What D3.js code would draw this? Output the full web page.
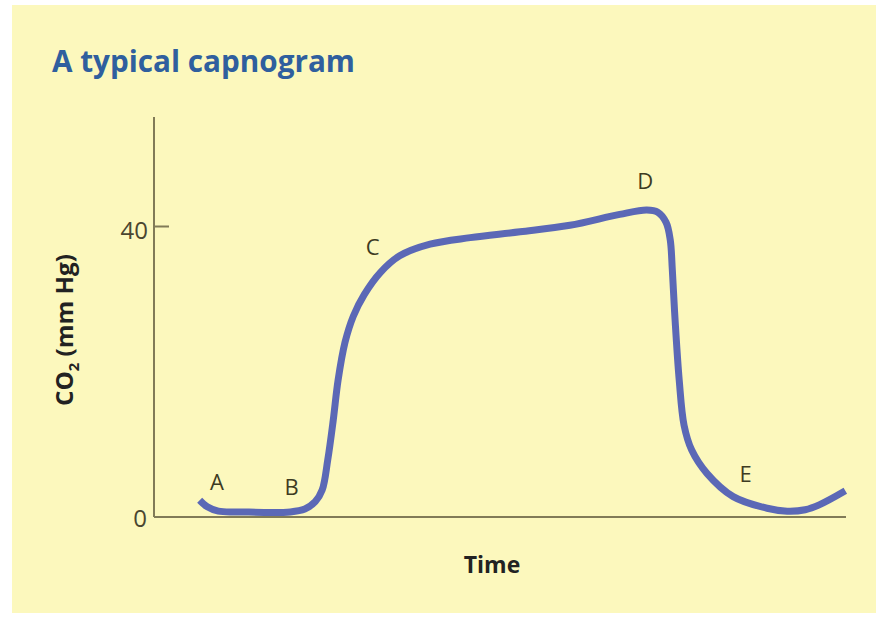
<!DOCTYPE html>
<html>
<head>
<meta charset="utf-8">
<script src="https://cdn.jsdelivr.net/npm/d3@7"></script>
<style>
  html, body { margin: 0; padding: 0; background: #ffffff; }
  svg { display: block; }
</style>
</head>
<body>
<script>
// ---- data ----
const time = [6.6, 7.7, 9.3, 12.4, 19.7, 21.8, 23.3, 24.3, 25.1, 25.9, 26.6, 27.6, 28.8, 30.4, 32.7, 35.5, 39.9, 45.7, 52.9, 60.1, 67.3, 71.2, 72.8, 74.0, 74.6, 74.9, 75.3, 75.9, 76.6, 77.7, 79.9, 83.7, 88.6, 91.5, 94.1, 96.2, 99.9];
const co2  = [2.3, 1.4, 0.8, 0.7, 0.7, 1.1, 2.1, 3.7, 7.8, 13.3, 18.8, 24.0, 27.6, 30.6, 33.6, 35.9, 37.5, 38.4, 39.2, 40.1, 41.6, 42.2, 41.9, 40.5, 38.1, 34.0, 27.1, 18.8, 12.6, 9.2, 6.0, 2.8, 1.2, 0.8, 1.0, 1.7, 3.6];
const yTicks = [0, 40];
const phaseLabels = ["A", "B", "C", "D", "E"];
const phaseTime = [9.1, 19.9, 31.6, 71.0, 85.5];
const phaseCO2  = [3.7, 3.0, 36.0, 45.1, 4.8];

const W = 876, H = 618;
const svg = d3.select("body").append("svg").attr("width", W).attr("height", H);

svg.append("rect").attr("x", 12).attr("y", 5).attr("width", W - 12).attr("height", 608).attr("fill", "#fcf8bd");

const x = d3.scaleLinear().domain([0, 100]).range([154, 846]);
const y = d3.scaleLinear().domain([0, 40]).range([517, 226]);
const yTop = y.invert(117);

const axisColor = "#817b57";
const textColor = "#3d3b22";

// title
svg.append("text").attr("x", 52).attr("y", 72)
  .attr("font-family", "Open Sans, sans-serif").attr("font-weight", 700).attr("font-size", 30)
  .attr("fill", "#2f5f9e").attr("textLength", 303).attr("lengthAdjust", "spacingAndGlyphs")
  .text("A typical capnogram");

// y axis
const yAxis = d3.axisRight(y).tickValues(yTicks).tickSize(15).tickFormat("");
const gy = svg.append("g").attr("transform", `translate(${x(0)},0)`).call(yAxis);
gy.select(".domain").remove();
gy.selectAll(".tick line").attr("stroke", axisColor).attr("stroke-width", 2);
gy.selectAll(".tick line").filter(d => d === 0).remove();
svg.append("line").attr("x1", x(0)).attr("x2", x(0)).attr("y1", y(yTop)).attr("y2", y(0))
  .attr("stroke", axisColor).attr("stroke-width", 2);
svg.append("line").attr("x1", x(0)).attr("x2", x(100)).attr("y1", y(0)).attr("y2", y(0))
  .attr("stroke", axisColor).attr("stroke-width", 2);

svg.selectAll(".ytl").data(yTicks).join("text").attr("class", "ytl")
  .attr("x", d => d === 0 ? x(0) - 7 : x(0) - 6)
  .attr("y", d => d === 0 ? y(d) + 10 : y(d) + 13)
  .attr("text-anchor", "end")
  .attr("font-family", "Open Sans, sans-serif").attr("font-size", 24)
  .attr("fill", "#4a4630").text(d => d);

// axis titles
svg.append("text").attr("x", 492).attr("y", 573).attr("text-anchor", "middle")
  .attr("font-family", "Open Sans, sans-serif").attr("font-weight", 700).attr("font-size", 23)
  .attr("fill", "#222").text("Time");

const yl = svg.append("text").attr("transform", "translate(73,330) rotate(-90)")
  .attr("text-anchor", "middle")
  .attr("font-family", "Open Sans, sans-serif").attr("font-weight", 700).attr("font-size", 23)
  .attr("fill", "#222").attr("textLength", 152).attr("lengthAdjust", "spacingAndGlyphs");
yl.append("tspan").text("CO");
yl.append("tspan").attr("font-size", 14).attr("dy", 6).text("2");
yl.append("tspan").attr("dy", -6).text(" (mm Hg)");

// curve
const data = time.map((t, i) => ({ t, v: co2[i] }));
const line = d3.line().x(d => x(d.t)).y(d => y(d.v)).curve(d3.curveCatmullRom.alpha(0.5));
svg.append("path").datum(data).attr("d", line)
  .attr("fill", "none").attr("stroke", "#5b68b6").attr("stroke-width", 7)
  .attr("stroke-linejoin", "round").attr("stroke-linecap", "butt");

// phase labels
svg.selectAll(".pl").data(phaseLabels).join("text").attr("class", "pl")
  .attr("x", (d, i) => x(phaseTime[i])).attr("y", (d, i) => y(phaseCO2[i]))
  .attr("text-anchor", "middle")
  .attr("font-family", "Open Sans, sans-serif").attr("font-size", 22)
  .attr("fill", textColor).text(d => d);
</script>
</body>
</html>
